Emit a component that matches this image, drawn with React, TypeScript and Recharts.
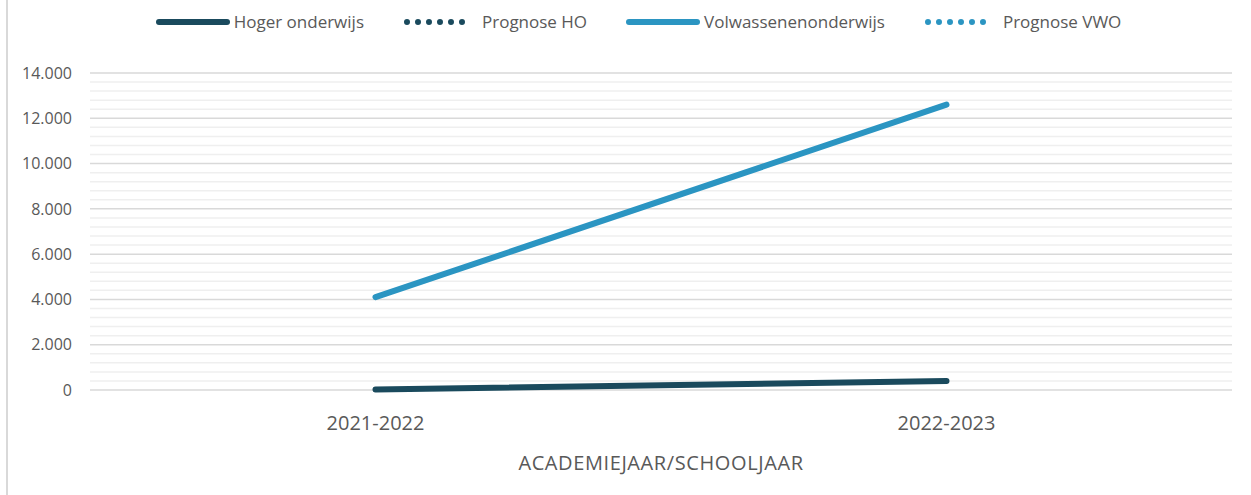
import { LineChart, Line, XAxis, YAxis, CartesianGrid, Legend, ReferenceLine, Label } from 'recharts'

const years = ['2021-2022', '2022-2023']
const hogerOnderwijs = [20, 400]
const prognoseHO: (number | null)[] = [null, null]
const volwassenenonderwijs = [4100, 12600]
const prognoseVWO: (number | null)[] = [null, null]

const yTicks = [0, 2000, 4000, 6000, 8000, 10000, 12000, 14000]
const minorTicks = [
  400, 800, 1200, 1600, 2400, 2800, 3200, 3600, 4400, 4800, 5200, 5600, 6400, 6800, 7200, 7600,
  8400, 8800, 9200, 9600, 10400, 10800, 11200, 11600, 12400, 12800, 13200, 13600,
]

const DARK = '#1a4a5d'
const BLUE = '#2b95c2'
const TEXT = '#595959'
const FONT = '"Open Sans", sans-serif'

const series = [
  { key: 'ho', name: 'Hoger onderwijs', color: DARK, dotted: false },
  { key: 'pho', name: 'Prognose HO', color: DARK, dotted: true },
  { key: 'vwo', name: 'Volwassenenonderwijs', color: BLUE, dotted: false },
  { key: 'pvwo', name: 'Prognose VWO', color: BLUE, dotted: true },
]

const data = years.map((year, i) => ({
  year,
  ho: hogerOnderwijs[i],
  pho: prognoseHO[i],
  vwo: volwassenenonderwijs[i],
  pvwo: prognoseVWO[i],
}))

const fmt = (v: number) => String(v).replace(/\B(?=(\d{3})+(?!\d))/g, '.')

function LegendContent() {
  return (
    <div style={{ display: 'flex', justifyContent: 'center', alignItems: 'center', gap: 39, paddingLeft: 26, fontFamily: FONT, fontSize: 17, color: TEXT }}>
      {series.map((s) => (
        <span key={s.key} style={{ display: 'flex', alignItems: 'center', gap: s.dotted ? 17 : 4 }}>
          {s.dotted ? (
            <svg width={62} height={8}>
              <line x1={4} y1={4} x2={60} y2={4} stroke={s.color} strokeWidth={6} strokeLinecap="round" strokeDasharray="0 11" />
            </svg>
          ) : (
            <svg width={74} height={8}>
              <line x1={3} y1={4} x2={71} y2={4} stroke={s.color} strokeWidth={6} strokeLinecap="round" />
            </svg>
          )}
          {s.name}
        </span>
      ))}
    </div>
  )
}

export default function App() {
  return (
    <div style={{ position: 'absolute', left: 0, top: 0, width: 1251, height: 495, background: '#fff' }}>
      <div style={{ position: 'absolute', left: 6, top: 0, bottom: 0, borderLeft: '2px solid #d9d9d9' }} />
      <LineChart width={1251} height={495} data={data} margin={{ top: 23, right: 19, left: 0, bottom: 0 }}>
        <Legend verticalAlign="top" height={50} content={<LegendContent />} wrapperStyle={{ top: 10, left: 0, width: 1251 }} />
        {minorTicks.map((v) => (
          <ReferenceLine key={v} y={v} stroke="#efefef" strokeWidth={1.5} />
        ))}
        <CartesianGrid vertical={false} stroke="#d9d9d9" strokeWidth={1.5} />
        <XAxis
          dataKey="year"
          scale="band"
          axisLine={false}
          tickLine={false}
          tickSize={0}
          tickMargin={26}
          height={105}
          tick={{ fill: TEXT, fontSize: 20, fontFamily: FONT }}
        >
          <Label value="ACADEMIEJAAR/SCHOOLJAAR" position="insideBottom" offset={25} fill={TEXT} fontSize={20} letterSpacing={0.6} fontFamily={FONT} />
        </XAxis>
        <YAxis
          domain={[0, 14000]}
          ticks={yTicks}
          width={90}
          axisLine={false}
          tickLine={false}
          tickSize={0}
          tickMargin={18}
          tickFormatter={fmt}
          tick={{ fill: TEXT, fontSize: 16, fontFamily: FONT }}
        />
        {series.map((s) => (
          <Line
            key={s.key}
            dataKey={s.key}
            name={s.name}
            stroke={s.color}
            strokeWidth={6}
            strokeLinecap="round"
            strokeDasharray={s.dotted ? '0 11' : undefined}
            dot={false}
            activeDot={false}
            isAnimationActive={false}
          />
        ))}
      </LineChart>
    </div>
  )
}
